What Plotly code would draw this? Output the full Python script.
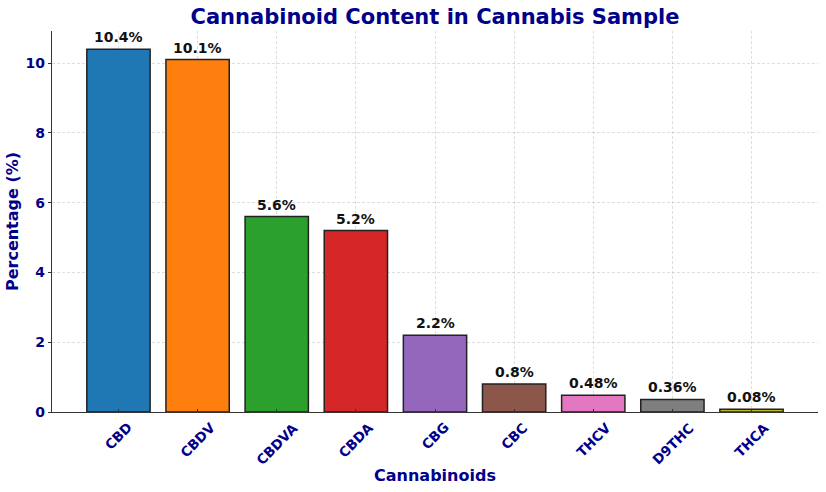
import plotly.graph_objects as go

categories = ["CBD", "CBDV", "CBDVA", "CBDA", "CBG", "CBC", "THCV", "D9THC", "THCA"]
values = [10.4, 10.1, 5.6, 5.2, 2.2, 0.8, 0.48, 0.36, 0.08]
labels = ["10.4%", "10.1%", "5.6%", "5.2%", "2.2%", "0.8%", "0.48%", "0.36%", "0.08%"]
colors = ["#1f77b4", "#ff7f0e", "#2ca02c", "#d62728", "#9467bd",
          "#8c564b", "#e377c2", "#7f7f7f", "#bcbd22"]
y_ticks = [0, 2, 4, 6, 8, 10]

NAVY = "#00008B"
FONT = "DejaVu Sans"

fig = go.Figure()
fig.add_trace(go.Bar(
    x=list(range(len(categories))), y=values,
    marker=dict(color=colors, line=dict(color="#222222", width=1.5)),
    width=0.8, hoverinfo="skip",
))

# value labels above bars
for i, (v, t) in enumerate(zip(values, labels)):
    fig.add_annotation(x=i, y=v, text=f"<b>{t}</b>", showarrow=False,
                       yanchor="bottom", yshift=2,
                       font=dict(family=FONT, size=14, color="#111111"))

# rotated category labels, centred under each tick
for i, c in enumerate(categories):
    fig.add_annotation(x=i, y=0, text=f"<b>{c}</b>", showarrow=False,
                       textangle=-45, xanchor="center", yanchor="top",
                       yshift=-5,
                       font=dict(family=FONT, size=13.5, color=NAVY))

grid = "rgba(200,200,200,0.6)"
fig.update_layout(
    width=826, height=492,
    margin=dict(l=52, r=8, t=31, b=80),
    plot_bgcolor="white", paper_bgcolor="white",
    showlegend=False,
    title=dict(text="<b>Cannabinoid Content in Cannabis Sample</b>",
               x=0.5, xanchor="center", y=1 - 17 / 492, yanchor="middle",
               xref="paper",
               font=dict(family=FONT, size=21, color=NAVY)),
    xaxis=dict(
        range=[-0.84, 8.84],
        tickvals=list(range(len(categories))),
        showticklabels=False,
        showgrid=True, gridcolor=grid, griddash="3px,2px", gridwidth=1,
        showline=True, linecolor="#333333", linewidth=1.2,
        ticks="inside", ticklen=3, tickcolor="#333333",
        zeroline=False, layer="above traces",
        title=dict(text="<b>Cannabinoids</b>", standoff=57,
                   font=dict(family=FONT, size=16, color=NAVY)),
    ),
    yaxis=dict(
        range=[0, 10.92],
        tickvals=y_ticks,
        ticktext=[f"<b>{v}</b>" for v in y_ticks],
        tickfont=dict(family=FONT, size=14, color=NAVY),
        showgrid=True, gridcolor=grid, griddash="3px,2px", gridwidth=1,
        showline=True, linecolor="#333333", linewidth=1.2,
        ticks="outside", ticklen=3, tickcolor="#333333",
        zeroline=False, layer="above traces",
        title=dict(text="<b>Percentage (%)</b>", standoff=3,
                   font=dict(family=FONT, size=16, color=NAVY)),
    ),
)

fig.write_html("out.html")
